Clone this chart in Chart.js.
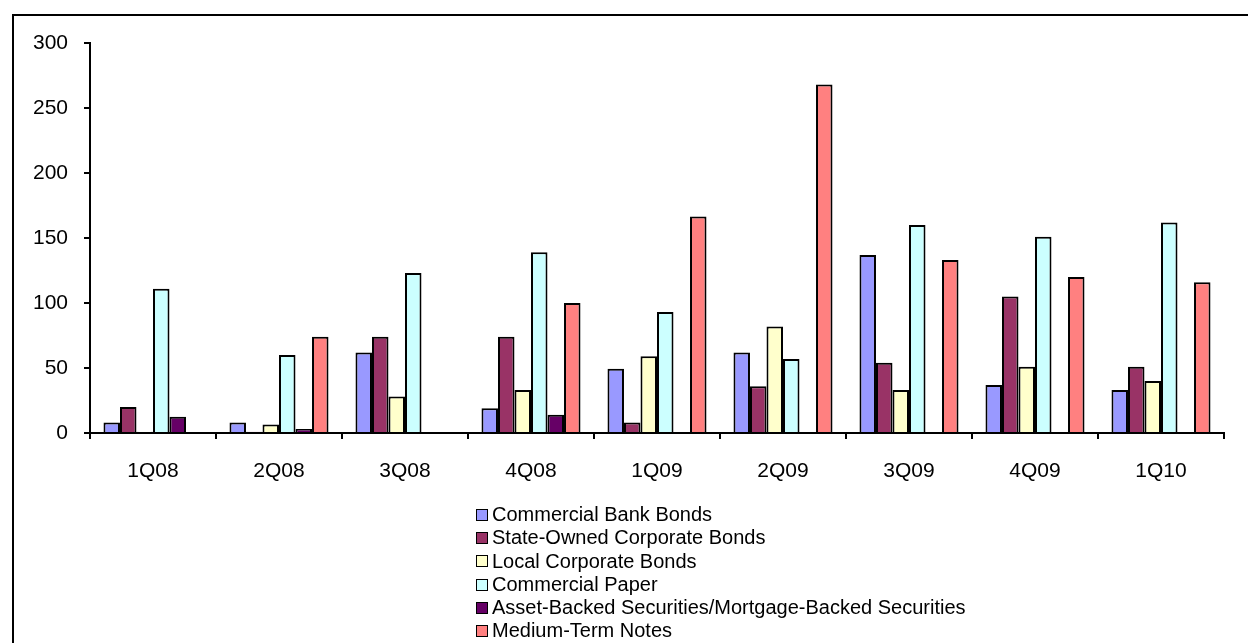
<!DOCTYPE html>
<html>
<head>
<meta charset="utf-8">
<script src="https://cdn.jsdelivr.net/npm/chart.js@4.4.1/dist/chart.umd.min.js"></script>
<style>
  html, body { margin: 0; padding: 0; background: #fff; width: 1248px; height: 643px; overflow: hidden; }
  #wrap { position: relative; width: 1248px; height: 643px; }
  #frame { position: absolute; left: 12px; top: 14px; width: 1300px; height: 700px;
           border-left: 2px solid #000; border-top: 2px solid #000; box-sizing: border-box; }
  canvas { position: absolute; left: 0; top: 0; }
  #legend { position: absolute; left: 476px; top: 503px; font-family: "Liberation Sans", Arial, sans-serif;
            font-size: 20px; color: #000; }
  .item { height: 23.3px; line-height: 23.3px; white-space: nowrap; display: flex; align-items: center; }
  .box { width: 10px; height: 10px; border: 1.5px solid #000; margin-right: 4px; flex: none; }
</style>
</head>
<body>
<div id="wrap">
  <div id="frame"></div>
  <canvas id="c" width="1248" height="643"></canvas>
  <div id="legend"></div>
</div>
<script>
const categories = ["1Q08","2Q08","3Q08","4Q08","1Q09","2Q09","3Q09","4Q09","1Q10"];
const seriesNames = ["Commercial Bank Bonds","State-Owned Corporate Bonds","Local Corporate Bonds","Commercial Paper","Asset-Backed Securities/Mortgage-Backed Securities","Medium-Term Notes"];
const commercialBankBonds = [8, 8, 62, 19, 49.5, 62, 137, 37, 33];
const stateOwnedCorporateBonds = [20, 1, 74, 74, 8, 36, 54, 105, 51];
const localCorporateBonds = [1, 6.5, 28, 33, 59, 82, 33, 51, 40];
const commercialPaper = [111, 60, 123, 139, 93, 57, 160, 151, 162];
const assetBackedSecurities = [12.5, 3, null, 14, null, null, null, null, null];
const mediumTermNotes = [null, 74, null, 100, 166.5, 268, 133, 120, 116];
const yTicks = [0, 50, 100, 150, 200, 250, 300];
const colors = ["#9999FF","#993366","#FFFFCC","#CCFFFF","#660066","#FF8080"];

const seriesValues = [commercialBankBonds, stateOwnedCorporateBonds, localCorporateBonds, commercialPaper, assetBackedSecurities, mediumTermNotes];

const datasets = seriesNames.map((name, i) => ({
  label: name,
  data: seriesValues[i],
  backgroundColor: colors[i],
  borderColor: "#000",
  borderWidth: 2,
  borderSkipped: "bottom",
  categoryPercentage: 0.786,
  barPercentage: 1.0
}));

const tickFont = { family: "'Liberation Sans', Arial, sans-serif", size: 21 };

new Chart(document.getElementById("c"), {
  type: "bar",
  data: { labels: categories, datasets },
  options: {
    responsive: false,
    animation: false,
    devicePixelRatio: 1,
    layout: { padding: { top: 43, right: 24, left: 0, bottom: 0 } },
    plugins: { legend: { display: false }, tooltip: { enabled: false } },
    scales: {
      x: {
        offset: true,
        grid: { display: true, offset: true, drawOnChartArea: false, drawTicks: true, tickLength: 6, color: "#000", lineWidth: 2 },
        border: { display: true, color: "#000", width: 2 },
        ticks: { color: "#000", font: tickFont, padding: 20, maxRotation: 0, autoSkip: false },
        afterFit: (s) => { s.height = 210; }
      },
      y: {
        min: 0, max: 300,
        afterBuildTicks: (s) => { s.ticks = yTicks.map(v => ({ value: v })); },
        grid: { display: true, drawOnChartArea: false, drawTicks: true, tickLength: 6, color: "#000", lineWidth: 2 },
        border: { display: true, color: "#000", width: 2 },
        ticks: { color: "#000", font: tickFont, padding: 16 },
        afterFit: (s) => { s.width = 90; }
      }
    }
  }
});

const legend = document.getElementById("legend");
seriesNames.forEach((name, i) => {
  const d = document.createElement("div");
  d.className = "item";
  const b = document.createElement("span");
  b.className = "box";
  b.style.background = colors[i];
  const t = document.createElement("span");
  t.textContent = name;
  d.appendChild(b); d.appendChild(t);
  legend.appendChild(d);
});
</script>
</body>
</html>
